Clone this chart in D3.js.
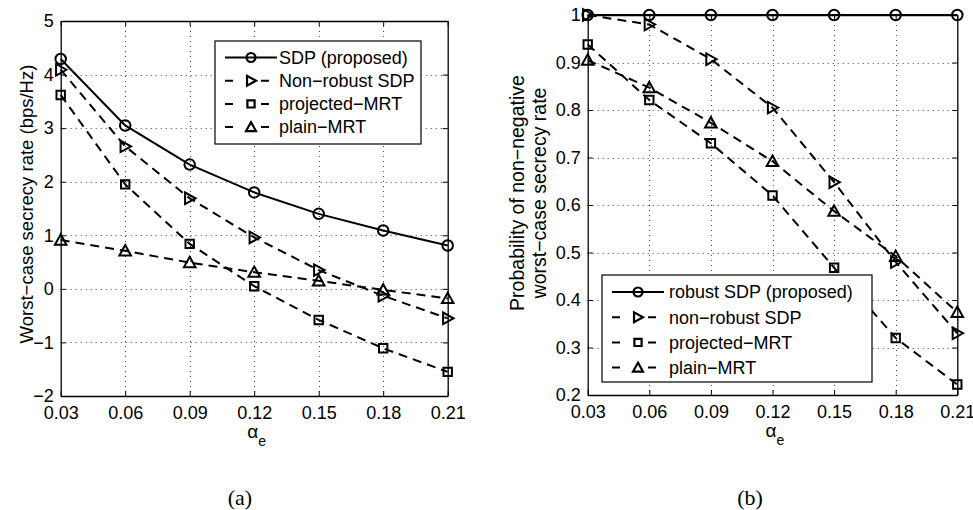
<!DOCTYPE html>
<html>
<head>
<meta charset="utf-8">
<script src="https://cdn.jsdelivr.net/npm/d3@7"></script>
<style>
  html, body { margin: 0; padding: 0; background: #fff; }
  svg { display: block; }
  text { font-family: "Liberation Sans", Arial, Helvetica, sans-serif; fill: #000; }
</style>
</head>
<body>
<svg id="chart" width="973" height="510"></svg>
<script>
// ---------------- DATA ----------------
const alphaValues = [0.03, 0.06, 0.09, 0.12, 0.15, 0.18, 0.21];
const xTickLabels = ["0.03", "0.06", "0.09", "0.12", "0.15", "0.18", "0.21"];

// (a) worst-case secrecy rate (bps/Hz)
const rateSDP       = [4.29, 3.05, 2.32, 1.80, 1.40, 1.09, 0.81];
const rateNonRobust = [4.09, 2.66, 1.69, 0.96, 0.35, -0.13, -0.55];
const rateProjected = [3.62, 1.95, 0.84, 0.05, -0.58, -1.11, -1.55];
const ratePlain     = [0.91, 0.71, 0.49, 0.31, 0.15, -0.02, -0.18];
const rateTicks     = [-2, -1, 0, 1, 2, 3, 4, 5];
const rateNamesA    = ["SDP (proposed)", "Non\u2212robust SDP", "projected\u2212MRT", "plain\u2212MRT"];

// (b) probability of non-negative worst-case secrecy rate
const probRobust    = [1, 1, 1, 1, 1, 1, 1];
const probNonRobust = [1.0, 0.98, 0.907, 0.805, 0.648, 0.48, 0.33];
const probProjected = [0.938, 0.821, 0.73, 0.62, 0.468, 0.32, 0.222];
const probPlain     = [0.905, 0.847, 0.773, 0.692, 0.587, 0.492, 0.374];
const probTicks     = [0.2, 0.3, 0.4, 0.5, 0.6, 0.7, 0.8, 0.9, 1];
const probTickLabels = ["0.2", "0.3", "0.4", "0.5", "0.6", "0.7", "0.8", "0.9", "1"];
const probNamesB    = ["robust SDP (proposed)", "non\u2212robust SDP", "projected\u2212MRT", "plain\u2212MRT"];

const markerKinds = ["circle", "triangleRight", "square", "triangleUp"];
const dashKinds   = [false, true, true, true];

// ---------------- DRAW ----------------
const svg = d3.select("#chart");
svg.append("rect").attr("width", 973).attr("height", 510).attr("fill", "#fff");

function markerPath(kind, s) {
  const p = d3.path();
  if (kind === "circle") {
    p.arc(0, 0, s * 0.5, 0, 2 * Math.PI);
  } else if (kind === "square") {
    const h = s * 0.4;
    p.rect(-h, -h, 2 * h, 2 * h);
  } else if (kind === "triangleUp") {
    const h = s * 0.55;
    p.moveTo(0, -h); p.lineTo(h, h * 0.8); p.lineTo(-h, h * 0.8); p.closePath();
  } else if (kind === "triangleRight") {
    const h = s * 0.55;
    p.moveTo(h, 0); p.lineTo(-h * 0.8, h); p.lineTo(-h * 0.8, -h); p.closePath();
  }
  return p.toString();
}

function drawPanel(cfg) {
  const g = svg.append("g");
  const x = d3.scaleLinear().domain([0.03, 0.21]).range([cfg.left, cfg.right]);
  const y = d3.scaleLinear().domain(cfg.yDomain).range([cfg.bottom, cfg.top]);

  // grid
  const grid = g.append("g").attr("stroke", "#444").attr("stroke-width", 1)
    .attr("stroke-dasharray", "1,4");
  grid.selectAll("line.gx").data(alphaValues.slice(1, -1)).join("line")
    .attr("x1", d => Math.round(x(d)) + 0.5).attr("x2", d => Math.round(x(d)) + 0.5)
    .attr("y1", cfg.top).attr("y2", cfg.bottom);
  grid.selectAll("line.gy").data(cfg.yTicks.filter(v => v > cfg.yDomain[0] && v < cfg.yDomain[1])).join("line")
    .attr("x1", cfg.left).attr("x2", cfg.right)
    .attr("y1", d => Math.round(y(d)) + 0.5).attr("y2", d => Math.round(y(d)) + 0.5);

  // axes (inward ticks on all sides)
  const tl = 5;
  const xAxisB = d3.axisBottom(x).tickValues(alphaValues).tickFormat((d, i) => xTickLabels[i])
    .tickSizeInner(-tl).tickSizeOuter(0).tickPadding(10);
  const xAxisT = d3.axisTop(x).tickValues(alphaValues).tickFormat("")
    .tickSizeInner(-tl).tickSizeOuter(0);
  const yAxisL = d3.axisLeft(y).tickValues(cfg.yTicks).tickFormat((d, i) => cfg.yTickLabels[i])
    .tickSizeInner(-tl).tickSizeOuter(0).tickPadding(7);
  const yAxisR = d3.axisRight(y).tickValues(cfg.yTicks).tickFormat("")
    .tickSizeInner(-tl).tickSizeOuter(0);

  const styleAxis = sel => {
    sel.selectAll("path").attr("stroke", "#000").attr("stroke-width", 1.3);
    sel.selectAll("line").attr("stroke", "#000").attr("stroke-width", 1);
    sel.selectAll("text").attr("font-size", 18).attr("font-family", "Liberation Sans, Arial, sans-serif").attr("fill", "#000");
  };
  g.append("g").attr("transform", `translate(0,${cfg.bottom})`).call(xAxisB).call(styleAxis);
  g.append("g").attr("transform", `translate(0,${cfg.top})`).call(xAxisT).call(styleAxis);
  g.append("g").attr("transform", `translate(${cfg.left},0)`).call(yAxisL).call(styleAxis);
  g.append("g").attr("transform", `translate(${cfg.right},0)`).call(yAxisR).call(styleAxis);

  // series
  const line = d3.line().x((d, i) => x(alphaValues[i])).y(d => y(d));
  cfg.series.forEach((vals, si) => {
    const sg = g.append("g");
    sg.append("path").attr("d", line(vals)).attr("fill", "none")
      .attr("stroke", "#000").attr("stroke-width", 2)
      .attr("stroke-dasharray", dashKinds[si] ? "9,6" : null);
    sg.selectAll("path.m").data(vals).join("path").attr("class", "m")
      .attr("transform", (d, i) => `translate(${x(alphaValues[i])},${y(d)})`)
      .attr("d", markerPath(markerKinds[si], 10.5))
      .attr("fill", "none").attr("stroke", "#000").attr("stroke-width", 2);
  });

  // y label
  const ylab = g.append("text").attr("font-size", cfg.yLabelSize).attr("text-anchor", "middle")
    .attr("transform", `translate(${cfg.yLabelX},${cfg.yLabelCY}) rotate(-90)`);
  cfg.yLabel.forEach((t, i) => {
    ylab.append("tspan").attr("x", 0).attr("dy", i === 0 ? 0 : "1.12em").text(t);
  });

  // x label alpha_e
  const xl = g.append("text").attr("x", (cfg.left + cfg.right) / 2 - 7).attr("y", cfg.bottom + 42)
    .attr("font-size", 19);
  xl.append("tspan").text("\u03b1");
  xl.append("tspan").attr("font-size", 14).attr("dy", 8).text("e");

  // caption
  g.append("text").attr("x", cfg.captionX).attr("y", 505).attr("text-anchor", "middle")
    .attr("font-size", 22)
    .style("font-family", "'Liberation Serif', 'Times New Roman', serif")
    .text(cfg.caption);

  // legend
  const L = cfg.legend;
  const lg = g.append("g");
  lg.append("rect").attr("x", L.x0).attr("y", L.y0).attr("width", L.x1 - L.x0).attr("height", L.y1 - L.y0)
    .attr("fill", "#fff").attr("stroke", "#000").attr("stroke-width", 1.2);
  cfg.names.forEach((name, i) => {
    const yy = L.rowY0 + i * L.rowStep;
    lg.append("line").attr("x1", L.lineX0).attr("x2", L.lineX1).attr("y1", yy).attr("y2", yy)
      .attr("stroke", "#000").attr("stroke-width", 2)
      .attr("stroke-dasharray", dashKinds[i] ? "8,28,8,100" : null);
    lg.append("path").attr("transform", `translate(${(L.lineX0 + L.lineX1) / 2},${yy})`)
      .attr("d", markerPath(markerKinds[i], 9))
      .attr("fill", "none").attr("stroke", "#000").attr("stroke-width", 2.2);
    lg.append("text").attr("x", L.textX).attr("y", yy).attr("dy", "0.35em")
      .attr("font-size", 18).text(name);
  });
}

drawPanel({
  left: 60.7, right: 447.7, top: 21, bottom: 396,
  yDomain: [-2, 5], yTicks: rateTicks, yTickLabels: rateTicks.map(v => v < 0 ? "\u2212" + Math.abs(v) : String(v)),
  series: [rateSDP, rateNonRobust, rateProjected, ratePlain],
  names: rateNamesA,
  yLabel: ["Worst\u2212case secrecy rate (bps/Hz)"], yLabelX: 33, yLabelCY: 204, yLabelSize: 18.5,
  caption: "(a)", captionX: 240,
  legend: { x0: 215, x1: 421, y0: 41, y1: 144, rowY0: 57.5, rowStep: 23.2, lineX0: 225, lineX1: 277, textX: 279 }
});

drawPanel({
  left: 587.7, right: 957.3, top: 15, bottom: 395,
  yDomain: [0.2, 1], yTicks: probTicks, yTickLabels: probTickLabels,
  series: [probRobust, probNonRobust, probProjected, probPlain],
  names: probNamesB,
  yLabel: ["Probability of non\u2212negative", "worst\u2212case secrecy rate"], yLabelX: 524, yLabelCY: 193, yLabelSize: 19.5,
  caption: "(b)", captionX: 750,
  legend: { x0: 602, x1: 872, y0: 275, y1: 382, rowY0: 292, rowStep: 25.2, lineX0: 612, lineX1: 664, textX: 669 }
});
</script>
</body>
</html>
